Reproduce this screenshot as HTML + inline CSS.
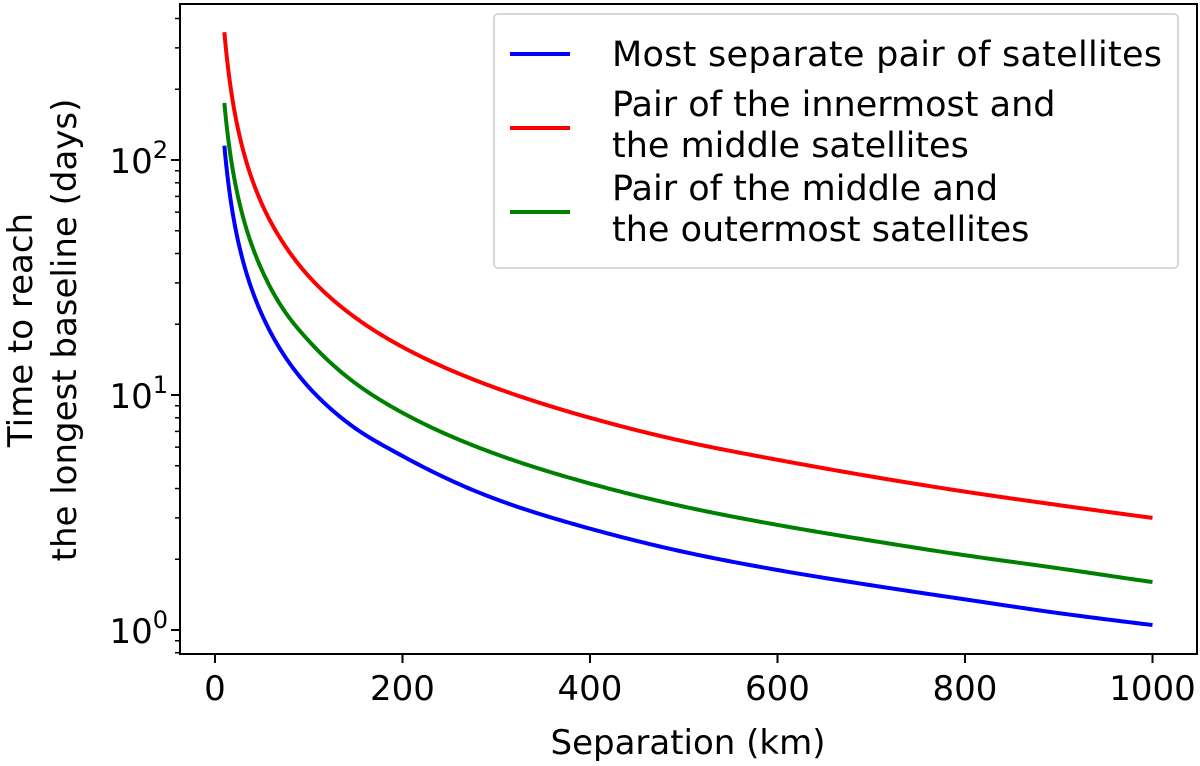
<!DOCTYPE html>
<html><head><meta charset="utf-8"><style>
html,body{margin:0;padding:0;background:#fff}
svg{display:block;font-family:"DejaVu Sans","Liberation Sans",sans-serif}
</style></head><body>
<svg id="chart" width="1200" height="766"></svg>
<script>
const xValues=[10,20,30,50,75,100,150,200,300,400,500,600,700,800,900,1000];
const blueValues=[115,56,37,22,14.5,10.8,7.2,5.5,3.6,2.7,2.15,1.8,1.55,1.35,1.18,1.05];
const redValues=[350,168,110,65,43,32,21.3,16,10.7,8.0,6.35,5.3,4.5,3.88,3.4,3.0];
const greenValues=[175,86,57,34,22.5,17,11.2,8.4,5.6,4.2,3.35,2.8,2.4,2.08,1.83,1.6];
const xTicks=[0,200,400,600,800,1000];
const yTickExps=[0,1,2];
const seriesNames=["Most separate pair of satellites",["Pair of the innermost and","the middle satellites"],["Pair of the middle and","the outermost satellites"]];

const NS="http://www.w3.org/2000/svg";
const svg=document.getElementById('chart');
const L=180,R=1197,T=4,B=654;
function sx(v){return 215+v*0.9375;}
function sy(v){return 630-Math.log10(v)*235;}
function mk(tag,attrs,parent){const e=document.createElementNS(NS,tag);for(const k in attrs)e.setAttribute(k,attrs[k]);(parent||svg).appendChild(e);return e;}

function curve(vals){
  const lx=xValues.map(Math.log10), ly=vals.map(Math.log10);
  const n=lx.length, m=[];
  for(let i=0;i<n;i++){
    if(i===0)m.push((ly[1]-ly[0])/(lx[1]-lx[0]));
    else if(i===n-1)m.push((ly[n-1]-ly[n-2])/(lx[n-1]-lx[n-2]));
    else m.push((ly[i+1]-ly[i-1])/(lx[i+1]-lx[i-1]));
  }
  const pts=[];
  for(let i=0;i<n-1;i++){
    const h=lx[i+1]-lx[i];
    for(let k=0;k<20;k++){
      const t=k/20,t2=t*t,t3=t2*t;
      const y=(2*t3-3*t2+1)*ly[i]+(t3-2*t2+t)*h*m[i]+(-2*t3+3*t2)*ly[i+1]+(t3-t2)*h*m[i+1];
      const x=lx[i]+t*h;
      pts.push([sx(Math.pow(10,x)),sy(Math.pow(10,y))]);
    }
  }
  pts.push([sx(xValues[n-1]),sy(vals[n-1])]);
  return 'M'+pts.map(p=>p[0].toFixed(2)+','+p[1].toFixed(2)).join(' L');
}

const series=[[blueValues,'#0000ff','blue-line'],[redValues,'#ff0000','red-line'],[greenValues,'#008000','green-line']];
series.forEach(([vals,col,name])=>{
  const el=mk('path',{d:curve(vals),fill:'none',stroke:col,'stroke-width':4,'stroke-linejoin':'round'});
  
  
});

const fr=mk('rect',{x:L,y:T,width:R-L,height:B-T,fill:'none',stroke:'#000','stroke-width':2});



xTicks.forEach(v=>{
  const x=sx(v);
  mk('line',{x1:x,x2:x,y1:B,y2:B+9,stroke:'#000','stroke-width':2});
  const t=mk('text',{x:x,y:B+46,'text-anchor':'middle','font-size':34});
  t.textContent=v;
  
  
});
yTickExps.forEach(e=>{
  const y=sy(Math.pow(10,e));
  mk('line',{x1:L,x2:L-9,y1:y,y2:y,stroke:'#000','stroke-width':2});
  const t=mk('text',{x:L-12,y:y+13,'text-anchor':'end','font-size':34});
  t.innerHTML='10<tspan dy="-15" font-size="24">'+e+'</tspan>';
  
  
});
for(let e=-1;e<=2;e++)for(let m=2;m<=9;m++){
  const y=sy(m*Math.pow(10,e));
  if(y<T||y>B)continue;
  mk('line',{x1:L,x2:L-5,y1:y,y2:y,stroke:'#000','stroke-width':1.5});
}

const xt=mk('text',{x:688,y:754,'text-anchor':'middle','font-size':34});
xt.textContent='Separation (km)';


const yt=mk('text',{transform:'translate(0,330) rotate(-90)','text-anchor':'middle','font-size':34});
yt.innerHTML='<tspan x="0" y="32">Time to reach</tspan><tspan x="0" y="76">the longest baseline (days)</tspan>';



const lg=mk('g',{});


mk('rect',{x:494,y:14,width:684,height:254,rx:4,fill:'#fff',stroke:'#ccc','stroke-width':1.5},lg);
const entries=[[54,'#0000ff',seriesNames[0]],[128,'#ff0000',seriesNames[1]],[212,'#008000',seriesNames[2]]];
entries.forEach(([y,col,nm])=>{
  const g=mk('g',{},lg);
  
  
  mk('line',{x1:510,x2:570,y1:y,y2:y,stroke:col,'stroke-width':4},g);
  const lines=Array.isArray(nm)?nm:[nm];
  lines.forEach((s,i)=>{
    const t=mk('text',{x:612,y:(lines.length>1?y-12:y+12)+i*41,'font-size':35,textLength:(s===seriesNames[0]?550:null)},g);
    if(s!==seriesNames[0])t.removeAttribute('textLength');
    t.textContent=s;
  });
});
</script>
</body></html>
